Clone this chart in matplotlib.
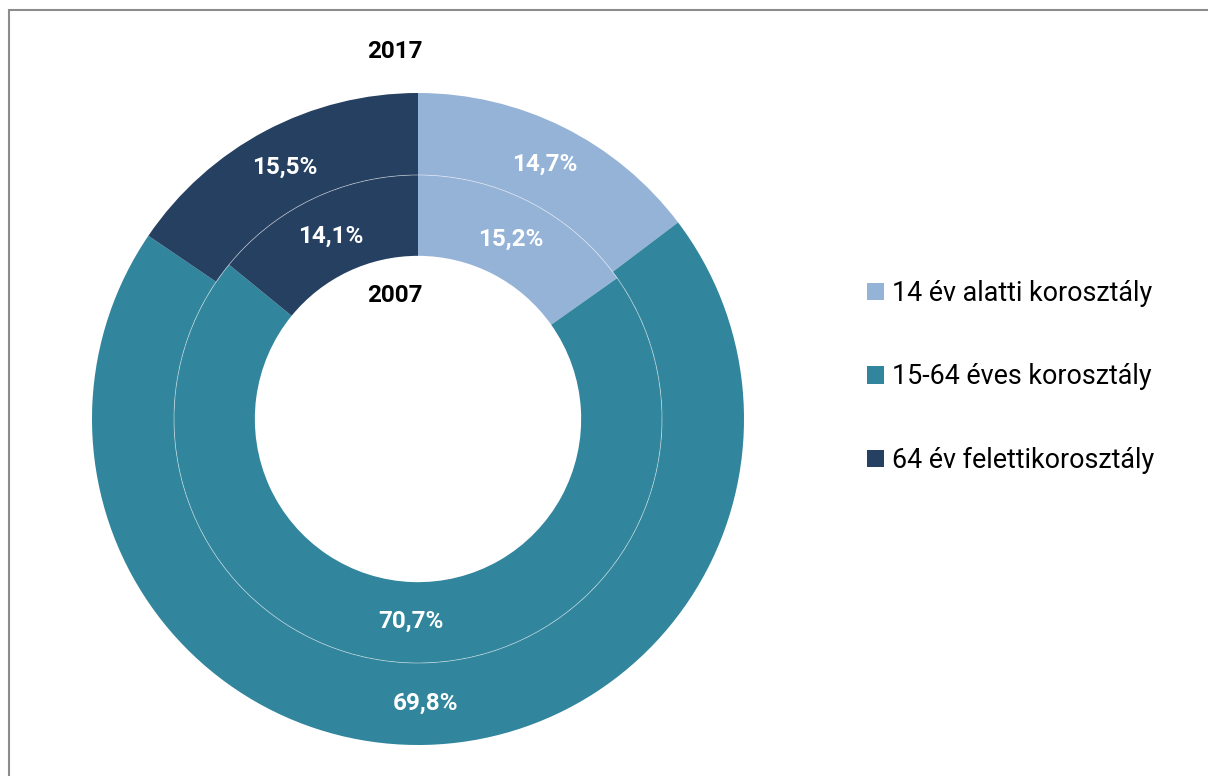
import matplotlib.pyplot as plt
from matplotlib.patches import Rectangle, Circle

# data
categories = ["14 év alatti korosztály", "15-64 éves korosztály", "64 év felettikorosztály"]
values_2017 = [14.7, 69.8, 15.5]
values_2007 = [15.2, 70.7, 14.1]
colors = ["#95B3D7", "#31859C", "#254061"]

plt.rcParams["font.family"] = ["Roboto", "DejaVu Sans"]

fig = plt.figure(figsize=(12.08, 7.76), dpi=100)
W, H = 1208, 776

# frame of the chart area (only left/top edges visible in the crop)
fig.patches.append(Rectangle((9 / W, -0.1), 1.2, (H - 10) / H + 0.1,
                             transform=fig.transFigure, fill=False,
                             edgecolor="#8c8c8c", lw=1.5, zorder=0))

cx, cy, r = 418, 419, 326
ax = fig.add_axes([(cx - r) / W, (H - cy - r) / H, 2 * r / W, 2 * r / H])

ring_w = 0.2515
fmt = lambda p: ("%.1f%%" % p).replace(".", ",")
lbl = dict(color="white", fontsize=17.5, fontweight="bold")

outer, _, _ = ax.pie(values_2017, radius=1.0, colors=colors,
                     startangle=90, counterclock=False,
                     autopct=fmt, pctdistance=0.872,
                     wedgeprops=dict(width=ring_w, linewidth=0),
                     textprops=lbl)
inner, _, _ = ax.pie(values_2007, radius=1.0 - ring_w, colors=colors,
                     startangle=90, counterclock=False,
                     autopct=fmt, pctdistance=0.83,
                     wedgeprops=dict(width=0.248, linewidth=0),
                     textprops=lbl)
# thin light line between the two rings
ax.add_patch(Circle((0, 0), 1.0 - ring_w, fill=False, edgecolor="white",
                    lw=0.6, alpha=0.5))
ax.set_xlim(-1, 1)
ax.set_ylim(-1, 1)
ax.set_aspect("equal")
ax.axis("off")

fig.text(395 / W, 1 - 51 / H, "2017", ha="center", va="center",
         fontsize=17.5, fontweight="bold")
fig.text(395 / W, 1 - 295 / H, "2007", ha="center", va="center",
         fontsize=17.5, fontweight="bold")

fig.legend(outer, categories, loc="center left",
           bbox_to_anchor=(867 / W, 1 - 377 / H), frameon=False,
           fontsize=19.4, handlelength=0.63, handleheight=0.63,
           handletextpad=0.3, labelspacing=2.1, borderaxespad=0,
           borderpad=0)

fig.savefig("out.png", dpi=100)
